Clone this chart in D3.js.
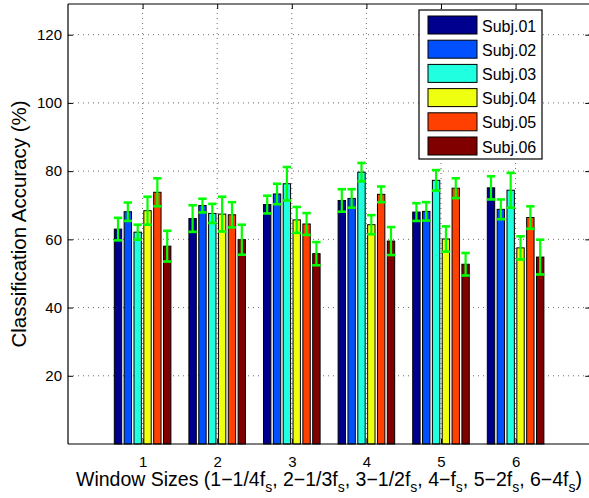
<!DOCTYPE html>
<html>
<head>
<meta charset="utf-8">
<script src="https://cdn.jsdelivr.net/npm/d3@7"></script>
<style>
    html, body { margin: 0; background: #fff; overflow: hidden; }
    #chart-first { width: 589px; height: 498px; }
    svg { display: block; }
    text { font-family: "Liberation Sans", Arial, sans-serif; fill: #000; }
</style>
</head>
<body>
<div id="chart-first"></div>
<script>
//Datos del gráfico
let categories = [1, 2, 3, 4, 5, 6];
let subjects = ['Subj.01', 'Subj.02', 'Subj.03', 'Subj.04', 'Subj.05', 'Subj.06'];
let subj_01 = [63.0, 66.1, 70.2, 71.4, 68.0, 75.1];
let subj_02 = [68.1, 69.9, 73.3, 72.0, 68.2, 68.8];
let subj_03 = [62.1, 67.6, 76.3, 79.7, 77.3, 74.4];
let subj_04 = [68.4, 67.4, 65.7, 64.3, 60.1, 57.5];
let subj_05 = [73.8, 67.2, 64.5, 73.2, 75.0, 66.4];
let subj_06 = [58.0, 59.9, 55.8, 59.5, 52.7, 54.8];
let err_01 = [3.3, 3.9, 2.6, 3.3, 2.6, 3.4];
let err_02 = [2.7, 2.0, 3.0, 2.7, 2.7, 2.9];
let err_03 = [2.2, 2.8, 4.9, 2.7, 3.0, 5.1];
let err_04 = [4.1, 5.1, 3.8, 2.8, 3.7, 3.4];
let err_05 = [4.1, 3.7, 3.2, 2.3, 2.9, 3.3];
let err_06 = [4.5, 4.4, 3.4, 4.1, 3.3, 5.1];
let yTicks = [20, 40, 60, 80, 100, 120];

//Colores (jet)
let colors = ['#00008f', '#0050ff', '#20ffdf', '#efff10', '#ff4000', '#800000'];
let err_color = '#00ff00';

let series = [subj_01, subj_02, subj_03, subj_04, subj_05, subj_06];
let errors = [err_01, err_02, err_03, err_04, err_05, err_06];

let data = [];
subjects.forEach(function(s, i) {
    categories.forEach(function(c, j) {
        data.push({subject: s, cat: c, value: series[i][j], err: errors[i][j], idx: i});
    });
});

function getFirstChart() {
    let chartBlock = d3.select('#chart-first');
    let margin = {top: 4, left: 68, bottom: 54};
    let height = 498 - margin.top - margin.bottom;

    let svg = chartBlock.append('svg')
        .attr('width', 589)
        .attr('height', 498);

    //Escalas
    let x = d3.scaleLinear()
        .domain([0, 7])
        .range([margin.left, margin.left + 7 * 74.6]);

    let y = d3.scaleLinear()
        .domain([0, 129])
        .range([margin.top + height, margin.top]);

    //Posición de cada sujeto dentro del grupo (en unidades del eje X)
    let xSub = d3.scaleBand()
        .domain(subjects)
        .range([-0.395, 0.395])
        .paddingInner(0.25)
        .paddingOuter(0.12);

    let bw = x(xSub.bandwidth()) - x(0);

    //Rejilla punteada
    let grid = svg.append('g');
    grid.selectAll('.gy')
        .data(yTicks)
        .enter()
        .append('line')
        .attr('x1', x(0))
        .attr('x2', x(7))
        .attr('y1', function(d) { return y(d); })
        .attr('y2', function(d) { return y(d); })
        .style('stroke', '#444')
        .style('stroke-width', 0.8)
        .style('stroke-dasharray', '1,4');

    grid.selectAll('.gx')
        .data(categories)
        .enter()
        .append('line')
        .attr('x1', function(d) { return x(d); })
        .attr('x2', function(d) { return x(d); })
        .attr('y1', y(0))
        .attr('y2', margin.top)
        .style('stroke', '#444')
        .style('stroke-width', 0.8)
        .style('stroke-dasharray', '1,4');

    //Barras
    svg.selectAll('.bar')
        .data(data)
        .enter()
        .append('rect')
        .attr('class', function(d) { return 'bar bar-' + d.idx; })
        .attr('x', function(d) { return x(d.cat + xSub(d.subject)); })
        .attr('y', function(d) { return y(d.value); })
        .attr('width', bw)
        .attr('height', function(d) { return y(0) - y(d.value); })
        .style('fill', function(d) { return colors[d.idx]; })
        .style('stroke', '#000')
        .style('stroke-width', 1);

    //Barras de error
    let errG = svg.selectAll('.err')
        .data(data)
        .enter()
        .append('g')
        .attr('class', 'err')
        .style('stroke', err_color)
        .style('stroke-width', 2.2);

    let cx = function(d) { return x(d.cat + xSub(d.subject)) + bw / 2; };

    errG.append('line')
        .attr('x1', cx).attr('x2', cx)
        .attr('y1', function(d) { return y(d.value + d.err); })
        .attr('y2', function(d) { return y(d.value - d.err); });

    [1, -1].forEach(function(sign) {
        errG.append('line')
            .attr('x1', function(d) { return cx(d) - bw / 2 - 0.5; })
            .attr('x2', function(d) { return cx(d) + bw / 2 + 0.5; })
            .attr('y1', function(d) { return y(d.value + sign * d.err); })
            .attr('y2', function(d) { return y(d.value + sign * d.err); })
            .style('stroke-width', 2.6);
    });

    //Ejes
    let xAxis = function(g) {
        g.call(d3.axisBottom(x).tickValues(categories).tickFormat(d3.format('d')).tickSize(-5).tickPadding(12))
        g.call(function(g) { g.select('.domain').remove(); })
        g.call(function(g) { g.selectAll('.tick text').style('font-size', '15px').attr('font-family', null); })
    };
    svg.append('g')
        .attr('transform', 'translate(0,' + y(0) + ')')
        .call(xAxis);

    let xAxisTop = function(g) {
        g.call(d3.axisTop(x).tickValues(categories).tickSize(-5).tickFormat(''))
        g.call(function(g) { g.select('.domain').remove(); })
    };
    svg.append('g')
        .attr('transform', 'translate(0,' + margin.top + ')')
        .call(xAxisTop);

    let yAxis = function(g) {
        g.call(d3.axisLeft(y).tickValues(yTicks).tickSize(-5).tickPadding(6))
        g.call(function(g) { g.select('.domain').remove(); })
        g.call(function(g) { g.selectAll('.tick text').style('font-size', '15px').attr('font-family', null); })
    };
    svg.append('g')
        .attr('transform', 'translate(' + x(0) + ',0)')
        .call(yAxis);

    //Marcas del eje derecho (el borde queda fuera de la imagen)
    let yAxisRight = function(g) {
        g.call(d3.axisRight(y).tickValues(yTicks).tickSize(-5).tickFormat(''))
        g.call(function(g) { g.select('.domain').remove(); })
    };
    svg.append('g')
        .attr('transform', 'translate(' + x(7) + ',0)')
        .call(yAxisRight);

    //Marco
    let frame = svg.append('g').style('stroke', '#000').style('stroke-width', 1.2);
    frame.append('line').attr('x1', x(0)).attr('x2', x(7)).attr('y1', margin.top).attr('y2', margin.top);
    frame.append('line').attr('x1', x(0)).attr('x2', x(7)).attr('y1', y(0)).attr('y2', y(0));
    frame.append('line').attr('x1', x(0)).attr('x2', x(0)).attr('y1', margin.top).attr('y2', y(0));

    //Títulos de ejes
    svg.append('text')
        .attr('transform', 'translate(26,' + (margin.top + height / 2) + ') rotate(-90)')
        .attr('text-anchor', 'middle')
        .style('font-size', '20.5px')
        .text('Classification Accuracy (%)');

    let labelParts = [
        ['Window Sizes (1\u22121/4f', 's'],
        [', 2\u22121/3f', 's'],
        [', 3\u22121/2f', 's'],
        [', 4\u2212f', 's'],
        [', 5\u22122f', 's'],
        [', 6\u22124f', 's'],
        [')', null]
    ];
    let xLabel = svg.append('text')
        .attr('x', 329)
        .attr('y', 486)
        .attr('text-anchor', 'middle')
        .style('font-size', '19.5px');
    let shifted = false;
    labelParts.forEach(function(p) {
        xLabel.append('tspan')
            .attr('dy', shifted ? -6 : 0)
            .text(p[0]);
        shifted = false;
        if (p[1]) {
            xLabel.append('tspan')
                .attr('dy', 6)
                .style('font-size', '14px')
                .text(p[1]);
            shifted = true;
        }
    });

    //Leyenda
    let legend = svg.append('g').attr('transform', 'translate(419,10)');
    legend.append('rect')
        .attr('width', 123)
        .attr('height', 149)
        .style('fill', '#fff')
        .style('stroke', '#000')
        .style('stroke-width', 1.2);

    let items = legend.selectAll('.item')
        .data(subjects)
        .enter()
        .append('g')
        .attr('transform', function(d, i) { return 'translate(0,' + (6 + i * 24.2) + ')'; });

    items.append('rect')
        .attr('x', 9)
        .attr('width', 49)
        .attr('height', 18)
        .style('fill', function(d, i) { return colors[i]; })
        .style('stroke', '#000')
        .style('stroke-width', 1);

    items.append('text')
        .attr('x', 63)
        .attr('y', 15.5)
        .style('font-size', '16px')
        .text(function(d) { return d; });
}

getFirstChart();
</script>
</body>
</html>
